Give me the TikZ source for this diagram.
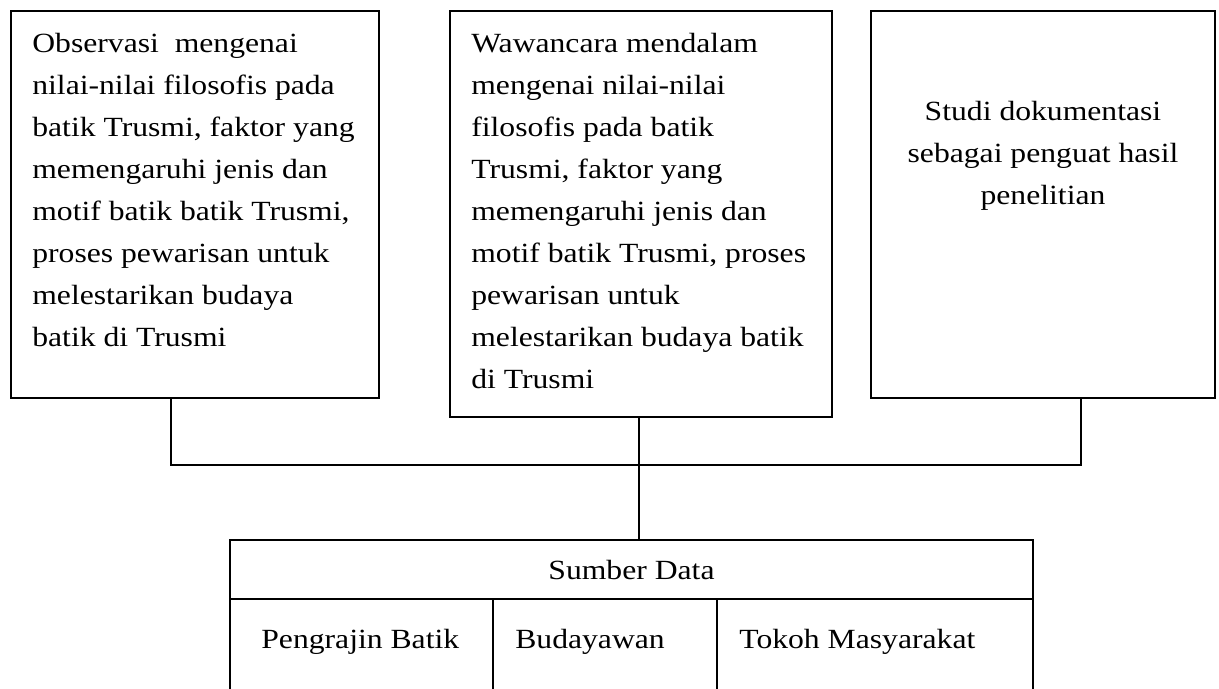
\documentclass[tikz,border=0pt]{standalone}
\usepackage{fontspec}
\setmainfont{Liberation Serif}[FakeStretch=1.14]
\usepackage{tikz}

\begin{document}
\begin{tikzpicture}[
  kotak/.style={draw, line width=1pt, inner sep=0pt, outer sep=0pt, font=\fontsize{15.8}{23.9}\selectfont},
  isi/.style={inner sep=0pt, font=\fontsize{15.8}{23.9}\selectfont}
]
\useasboundingbox (0,0) rectangle (24.38,-13.76);
% Draw the three boxes at the top
\node[kotak, minimum width=7.36cm, minimum height=7.74cm] (obs) at (3.90,-4.09) {};
\node[kotak, minimum width=7.64cm, minimum height=8.12cm] (wwc) at (12.82,-4.28) {};
\node[kotak, minimum width=6.88cm, minimum height=7.74cm] (dok) at (20.86,-4.09) {};
% Texts of the boxes
\node[isi, align=left, anchor=north west] (obstxt) at (0.64,-0.66) {Observasi\ \ mengenai\\
nilai-nilai filosofis pada\\ batik Trusmi, faktor yang\\ memengaruhi jenis dan\\
motif batik batik Trusmi,\\ proses pewarisan untuk\\ melestarikan budaya\\ batik di Trusmi};
\node[isi, align=left, anchor=north west] (wwctxt) at (9.42,-0.66) {Wawancara mendalam\\
mengenai nilai-nilai\\ filosofis pada batik\\ Trusmi, faktor yang\\ memengaruhi jenis dan\\
motif batik Trusmi, proses\\ pewarisan untuk\\ melestarikan budaya batik\\ di Trusmi};
\node[isi, align=center, anchor=north] (doktxt) at (20.86,-2.02) {Studi dokumentasi\\
sebagai penguat hasil\\ penelitian};
% Draw the table of data sources
\node[kotak, minimum width=16.06cm, minimum height=1.18cm] (sumber) at (12.63,-11.39) {Sumber Data};
\node[kotak, minimum width=5.26cm, minimum height=2.4cm, anchor=north west] (pengrajin) at (sumber.south west) {};
\node[kotak, minimum width=4.48cm, minimum height=2.4cm, anchor=north west] (budayawan) at (pengrajin.north east) {};
\node[kotak, minimum width=6.32cm, minimum height=2.4cm, anchor=north west] (tokoh) at (budayawan.north east) {};
\node[isi, anchor=base west] (pengrajintxt) at (5.22,-12.96) {Pengrajin Batik};
\node[isi, anchor=base west] (budayawantxt) at (10.30,-12.96) {Budayawan};
\node[isi, anchor=base west] (tokohtxt) at (14.78,-12.96) {Tokoh Masyarakat};
% Connecting lines
\coordinate (kiri) at (3.42,-9.30);
\coordinate (kanan) at (21.62,-9.30);
\coordinate (tengah) at (12.78,-9.30);
\draw[line width=1pt] (kiri |- obs.south) -- (kiri) -- (kanan) -- (kanan |- dok.south);
\draw[line width=1pt] (tengah |- wwc.south) -- (tengah |- sumber.north);
\end{tikzpicture}
\end{document}
